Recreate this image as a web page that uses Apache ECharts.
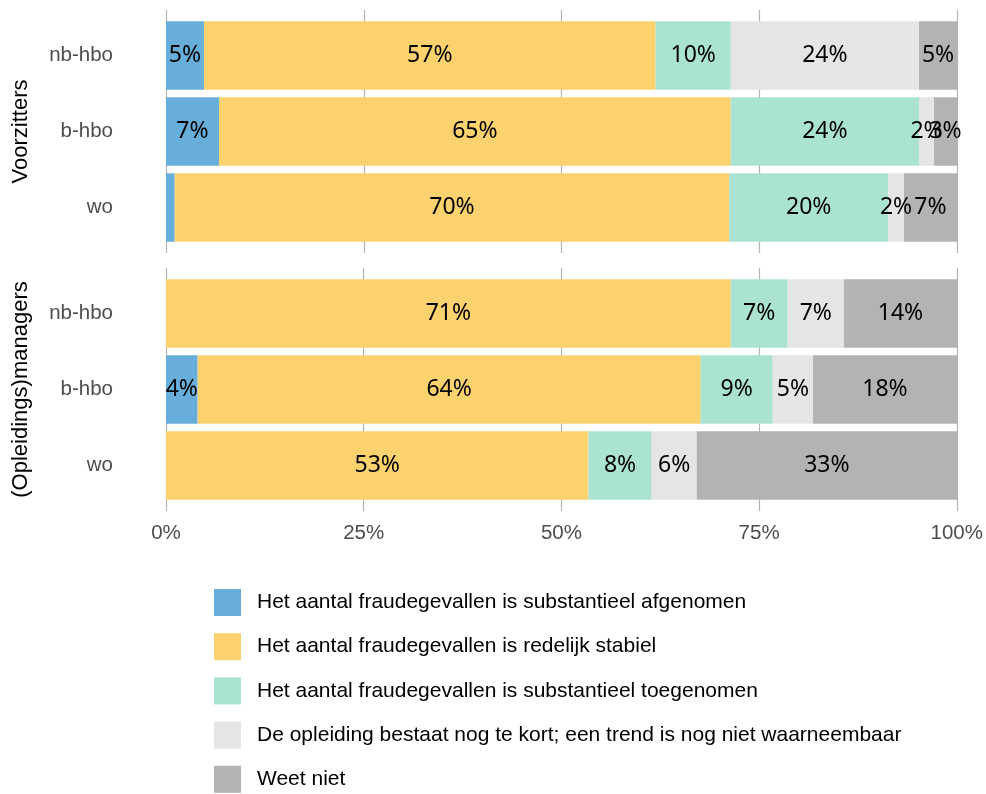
<!DOCTYPE html>
<html>
<head>
<meta charset="utf-8">
<script src="https://cdn.jsdelivr.net/npm/echarts@6.0.0/dist/echarts.min.js"></script>
<style>
  html, body { margin: 0; padding: 0; background: #ffffff; }
  #chart { width: 986px; height: 794px; }
</style>
</head>
<body>
<div id="chart"></div>
<script>
// Opleidingstype (top to bottom within each panel)
const categories = ['nb-hbo', 'b-hbo', 'wo'];
// Respondent groups, one panel each
const groups = ['Voorzitters', '(Opleidings)managers'];
// Answer options
const responses = [
  'Het aantal fraudegevallen is substantieel afgenomen',
  'Het aantal fraudegevallen is redelijk stabiel',
  'Het aantal fraudegevallen is substantieel toegenomen',
  'De opleiding bestaat nog te kort; een trend is nog niet waarneembaar',
  'Weet niet'
];
const colors = ['#67AEDB', '#FBD26E', '#ABE3D3', '#E5E5E5', '#B3B3B3'];
const xTicks = [0, 25, 50, 75, 100];

// Voorzitters, percentages per answer (nb-hbo, b-hbo, wo)
const vzAfgenomen  = [4.8, 6.7, 1.1];
const vzStabiel    = [57.1, 64.7, 70.1];
const vzToegenomen = [9.5, 23.8, 20.1];
const vzTeKort     = [23.8, 1.9, 2.0];
const vzWeetNiet   = [4.8, 2.9, 6.7];

// (Opleidings)managers, percentages per answer (nb-hbo, b-hbo, wo)
const mgAfgenomen  = [0, 4.0, 0];
const mgStabiel    = [71.4, 63.6, 53.4];
const mgToegenomen = [7.2, 9.1, 8.0];
const mgTeKort     = [7.1, 5.1, 5.7];
const mgWeetNiet   = [14.3, 18.2, 32.9];

const panelData = [
  [vzAfgenomen, vzStabiel, vzToegenomen, vzTeKort, vzWeetNiet],
  [mgAfgenomen, mgStabiel, mgToegenomen, mgTeKort, mgWeetNiet]
];

const axisFont = 'Liberation Sans, Arial, sans-serif';
const labelFont = 'Noto Sans, Open Sans, sans-serif';

// Panel geometry: background grids carry the gridlines over the full
// panel height; bar grids hold the three category bands.
const plotLeft = 166, plotWidth = 791;
const panelTops = [10, 268], panelHeight = 243;
const barInset = 7.5, barGridHeight = 228;

const grids = [];
const xAxes = [];
const yAxes = [];
panelTops.forEach((top) => {
  grids.push({ left: plotLeft, width: plotWidth, top: top, height: panelHeight });
});
panelTops.forEach((top) => {
  grids.push({ left: plotLeft, width: plotWidth, top: top + barInset, height: barGridHeight });
});

// gridline axes
panelTops.forEach((top, p) => {
  xAxes.push({
    type: 'value', gridIndex: p, min: xTicks[0], max: xTicks[xTicks.length - 1],
    interval: xTicks[1] - xTicks[0],
    axisLine: { show: false }, axisTick: { show: false },
    splitLine: { show: true, lineStyle: { color: '#b3b3b3', width: 1.2 } },
    axisLabel: {
      show: p === panelTops.length - 1,
      formatter: '{value}%', fontSize: 20.5, color: '#4d4d4d', fontFamily: axisFont, margin: 12
    }
  });
  yAxes.push({ type: 'value', gridIndex: p, min: 0, max: 1, show: false });
});
// bar axes
panelTops.forEach((top, p) => {
  xAxes.push({
    type: 'value', gridIndex: panelTops.length + p, min: 0, max: 100, show: false
  });
  yAxes.push({
    type: 'category', gridIndex: panelTops.length + p, data: categories, inverse: true,
    axisLine: { show: false }, axisTick: { show: false }, splitLine: { show: false },
    axisLabel: { fontSize: 20.5, color: '#4d4d4d', fontFamily: axisFont, margin: 53 },
    name: groups[p], nameLocation: 'middle', nameRotate: 90, nameGap: 134,
    nameTextStyle: { fontSize: 22, color: '#000000', fontFamily: axisFont }
  });
});

const series = [];
panelData.forEach((answers, p) => {
  answers.forEach((values, r) => {
    series.push({
      type: 'bar',
      name: responses[r],
      xAxisIndex: panelTops.length + p,
      yAxisIndex: panelTops.length + p,
      stack: 'panel' + p,
      barWidth: '90%',
      data: values,
      itemStyle: { color: colors[r] },
      label: {
        show: true,
        position: 'inside',
        color: '#000000',
        fontSize: 23,
        fontFamily: labelFont,
        formatter: (d) => (d.value >= 1.5 ? Math.round(d.value) + '%' : '')
      }
    });
  });
});

const chart = echarts.init(document.getElementById('chart'), null, { renderer: 'canvas' });
chart.setOption({
  animation: false,
  backgroundColor: '#ffffff',
  grid: grids,
  xAxis: xAxes,
  yAxis: yAxes,
  legend: {
    data: responses,
    orient: 'vertical',
    left: 214,
    top: 589,
    height: 205,
    padding: 0,
    itemWidth: 27,
    itemHeight: 27,
    itemGap: 17.2,
    icon: 'rect',
    selectedMode: false,
    textStyle: { fontSize: 21, color: '#000000', fontFamily: axisFont, padding: [0, 0, 0, 11] }
  },
  series: series
});
</script>
</body>
</html>
